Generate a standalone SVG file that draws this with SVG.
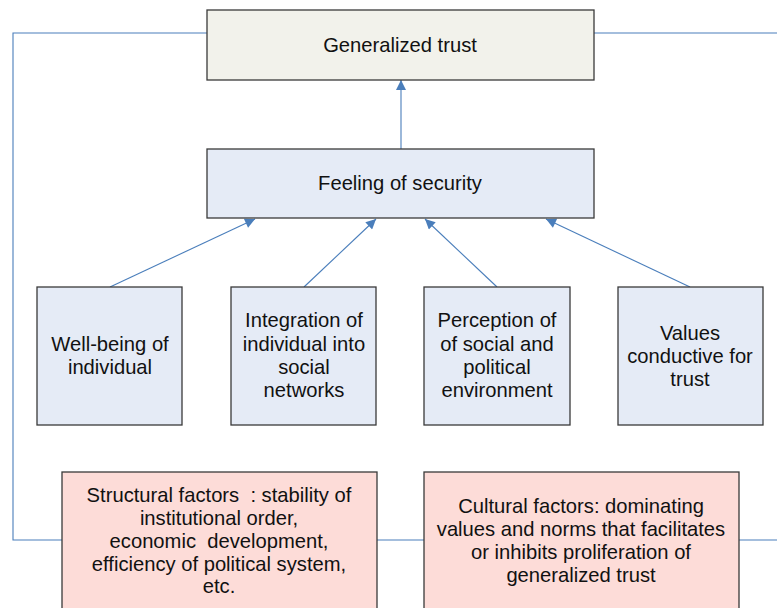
<svg xmlns="http://www.w3.org/2000/svg" width="777" height="608" viewBox="0 0 777 608">
  <defs>
    <marker id="arrow" viewBox="0 0 10 10" refX="10" refY="5" markerWidth="11" markerHeight="10" markerUnits="userSpaceOnUse" orient="auto">
      <path d="M0,0 L10,5 L0,10 Z" fill="#4a7ebb"/>
    </marker>
    <style>
      .box { stroke: #3a3a3a; stroke-width: 1.3; }
      .top { fill: #f2f2eb; }
      .blue { fill: #e5ebf6; }
      .pink { fill: #fddcd8; }
      .link { fill: none; stroke: #4a7ebb; stroke-width: 1.1; }
      text { font-family: "Liberation Sans", Arial, sans-serif; font-size: 20.2px; fill: #111; text-anchor: middle; }
    </style>
  </defs>
  <rect width="777" height="608" fill="#ffffff"/>

  <!-- connectors -->
  <g id="connectors">
    <polyline class="link" points="207,33 13,33 13,540 62,540"/>
    <line class="link" x1="594" y1="33" x2="777" y2="33"/>
    <line class="link" x1="377" y1="540" x2="424" y2="540"/>
    <line class="link" x1="739" y1="540" x2="777" y2="540"/>
    <line class="link" x1="401" y1="149" x2="401" y2="80" marker-end="url(#arrow)"/>
    <line class="link" x1="110" y1="287" x2="255" y2="219" marker-end="url(#arrow)"/>
    <line class="link" x1="304" y1="287" x2="376" y2="219" marker-end="url(#arrow)"/>
    <line class="link" x1="497" y1="287" x2="425" y2="219" marker-end="url(#arrow)"/>
    <line class="link" x1="690" y1="287" x2="546" y2="219" marker-end="url(#arrow)"/>
  </g>

  <g id="generalized-trust">
    <rect class="box top" x="207" y="10" width="387" height="70"/>
    <text x="400" y="52">Generalized trust</text>
  </g>

  <g id="feeling-of-security">
    <rect class="box blue" x="207" y="149" width="387" height="69"/>
    <text x="400" y="190">Feeling of security</text>
  </g>

  <g id="well-being">
    <rect class="box blue" x="37" y="287" width="145" height="138"/>
    <text x="110" y="351">Well-being of</text>
    <text x="110" y="374">individual</text>
  </g>

  <g id="integration">
    <rect class="box blue" x="231" y="287" width="145" height="138"/>
    <text x="304" y="327">Integration of</text>
    <text x="304" y="351">individual into</text>
    <text x="304" y="374">social</text>
    <text x="304" y="397">networks</text>
  </g>

  <g id="perception">
    <rect class="box blue" x="424" y="287" width="146" height="138"/>
    <text x="497" y="327">Perception of</text>
    <text x="497" y="351">of social and</text>
    <text x="497" y="374">political</text>
    <text x="497" y="397">environment</text>
  </g>

  <g id="values">
    <rect class="box blue" x="618" y="287" width="145" height="138"/>
    <text x="690" y="340">Values</text>
    <text x="690" y="363">conductive for</text>
    <text x="690" y="386">trust</text>
  </g>

  <g id="structural-factors">
    <rect class="box pink" x="62" y="472" width="315" height="150"/>
    <text x="219" y="502" xml:space="preserve">Structural factors  : stability of</text>
    <text x="219" y="525">institutional order,</text>
    <text x="219" y="548" xml:space="preserve">economic  development,</text>
    <text x="219" y="571">efficiency of political system,</text>
    <text x="219" y="593">etc.</text>
  </g>

  <g id="cultural-factors">
    <rect class="box pink" x="424" y="472" width="315" height="150"/>
    <text x="581" y="513">Cultural factors: dominating</text>
    <text x="581" y="536">values and norms that facilitates</text>
    <text x="581" y="559">or inhibits proliferation of</text>
    <text x="581" y="582">generalized trust</text>
  </g>
</svg>
